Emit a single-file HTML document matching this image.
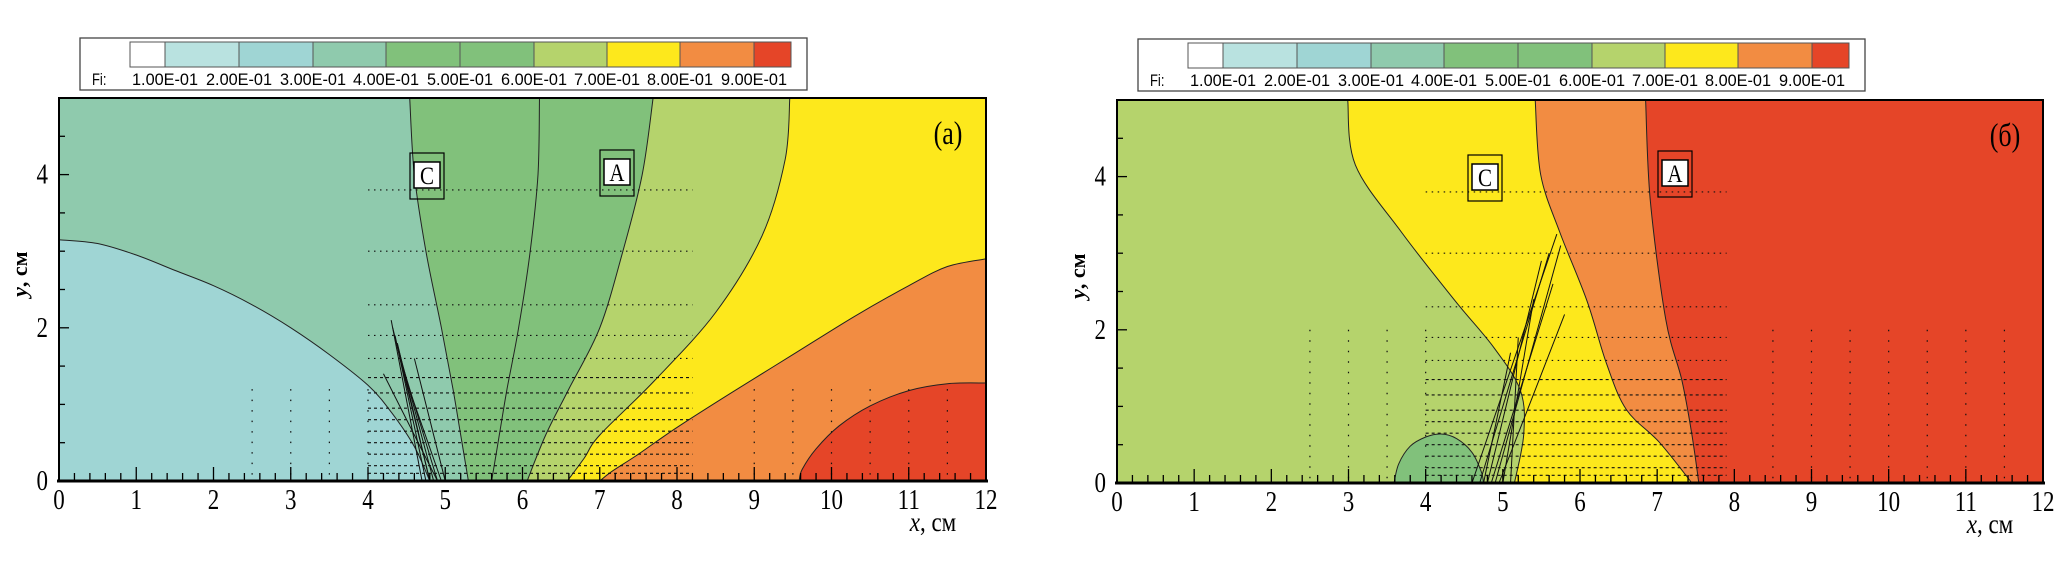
<!DOCTYPE html>
<html><head><meta charset="utf-8">
<style>
html,body{margin:0;padding:0;background:#fff;width:2067px;height:569px;overflow:hidden}
svg{display:block}
</style></head>
<body>
<svg id="fig" width="2067" height="569" viewBox="0 0 2067 569" xmlns="http://www.w3.org/2000/svg"></svg>
<script>
// ---- data ----
const levelLabels = ["1.00E-01","2.00E-01","3.00E-01","4.00E-01","5.00E-01","6.00E-01","7.00E-01","8.00E-01","9.00E-01"];
const levelColors = ["#ffffff","#b9e2e0","#9fd5d4","#8fcaad","#81c17b","#81c17b","#b5d36c","#fde81c","#f28c42","#e54528"];
const xTicks = [0,1,2,3,4,5,6,7,8,9,10,11,12];
const yTicks = [0,2,4];
// panel a contours (x,y) in cm
const aC03x = [0,0.5,1,1.5,2,2.5,3,3.5,4,4.3,4.6,4.8];
const aC03y = [3.15,3.1,2.95,2.75,2.55,2.3,2.0,1.65,1.25,0.9,0.45,0];
const aC04x = [4.54,4.6,4.75,4.95,5.1,5.2,5.3];
const aC04y = [5,4,3,2,1.2,0.6,0];
const aC05x = [6.22,6.2,6.1,5.95,5.8,5.7,5.6];
const aC05y = [5,4,3,2,1.2,0.6,0];
const aC06x = [7.69,7.55,7.3,7.0,6.6,6.3,6.06];
const aC06y = [5,4,3,2,1.2,0.6,0];
const aC07x = [9.46,9.4,9.1,8.5,7.7,7.0,6.8,6.58];
const aC07y = [5,4.2,3.2,2.2,1.3,0.6,0.3,0];
const aC08x = [12,11.5,11,10.3,9.5,8.7,8.0,7.5,7.15,7.0];
const aC08y = [2.9,2.8,2.55,2.15,1.65,1.15,0.7,0.35,0.12,0];
const aC09x = [12,11.5,11,10.5,10.1,9.8,9.62,9.58];
const aC09y = [1.28,1.27,1.18,0.98,0.72,0.42,0.15,0];
// panel b contours
const bC07x = [2.99,3.09,3.69,4.38,4.89,5.23,5.27,5.15];
const bC07y = [5,4.15,3.27,2.38,1.76,1.2,0.63,0];
const bC08x = [5.42,5.49,5.74,6.09,6.34,6.6,7.03,7.45];
const bC08y = [5,4.03,3.27,2.38,1.57,0.96,0.53,0];
const bC09x = [6.85,6.91,7.11,7.32,7.45,7.54];
const bC09y = [5,3.7,2.14,1.34,0.63,0];
const bDomeX = [3.59,3.65,3.8,4.0,4.2,4.4,4.6,4.72,4.75];
const bDomeY = [0,0.25,0.48,0.6,0.64,0.58,0.4,0.15,0];
// vector-field rows (y in cm) and jet vectors (from x0 at y=0 to tip)
const rowYa = [3.8,3.0,2.3,1.9,1.6,1.35,1.15,0.95,0.8,0.65,0.5,0.35,0.2,0.1];
const rowYb = [3.8,3.0,2.3,1.9,1.6,1.35,1.15,0.95,0.8,0.65,0.5,0.35,0.2,0.1];
const jetA0 = [4.7,4.75,4.8,4.85,4.9,4.95,5.0,4.9,4.8];
const jetAtipX = [4.3,4.35,4.32,4.4,4.45,4.5,4.6,4.2,4.38];
const jetAtipY = [2.1,1.9,2.0,1.7,1.5,1.3,1.6,1.4,1.8];
const jetB0 = [4.6,4.7,4.8,4.85,4.9,5.0,5.1,4.75,4.95];
const jetBtipX = [5.7,5.6,5.5,5.65,5.75,5.4,5.2,5.1,5.8];
const jetBtipY = [3.25,3.0,2.9,2.6,3.1,2.4,1.9,1.7,2.2];

const NS="http://www.w3.org/2000/svg";
const svg=document.getElementById('fig');
function mk(tag,attrs,parent){const e=document.createElementNS(NS,tag);for(const k in attrs)e.setAttribute(k,attrs[k]);(parent||svg).appendChild(e);return e;}
function smooth(P){ // catmull-rom -> bezier, P = [[x,y],...]
  let d='M'+P[0][0].toFixed(1)+','+P[0][1].toFixed(1);
  for(let i=0;i<P.length-1;i++){
    const p0=P[i-1]||P[i],p1=P[i],p2=P[i+1],p3=P[i+2]||p2;
    const c1=[p1[0]+(p2[0]-p0[0])/6,p1[1]+(p2[1]-p0[1])/6];
    const c2=[p2[0]-(p3[0]-p1[0])/6,p2[1]-(p3[1]-p1[1])/6];
    d+=' C'+c1.map(v=>v.toFixed(1)).join(',')+' '+c2.map(v=>v.toFixed(1)).join(',')+' '+p2[0].toFixed(1)+','+p2[1].toFixed(1);
  }
  return d;
}

function panel(P){
  const g=mk('g',{});
  
  
  const sx=x=>P.L+(P.R-P.L)*x/12, sy=y=>P.B-(P.B-P.T)*y/5;
  const pp=(xs,ys)=>xs.map((x,i)=>[sx(x),sy(ys[i])]);
  const cp=mk('clipPath',{id:'clip'+P.id},g);
  mk('rect',{x:P.L,y:P.T,width:P.R-P.L,height:P.B-P.T},cp);
  const pg=mk('g',{'clip-path':'url(#clip'+P.id+')'},g);
  
  
  mk('rect',{x:P.L,y:P.T,width:P.R-P.L,height:P.B-P.T,fill:P.bg},pg);
  P.regions.forEach(r=>{
    if(r.fill==='none') return;
    const base=smooth(pp(r.x,r.y));
    let d;
    if(r.side==='right') d=base+` L${sx(12.5)},${sy(r.y[r.y.length-1])} L${sx(12.5)},${sy(r.y[0])} Z`;
    else if(r.side==='left') d=base+` L${sx(-0.5)},${sy(0)} L${sx(-0.5)},${sy(r.y[0])} Z`;
    else if(r.side==='belowR') d=base+` L${sx(12.5)},${sy(0)} L${sx(12.5)},${sy(r.y[0])} Z`;
    else d=base+' Z';
    const e=mk('path',{d:d,fill:r.fill},pg);
    
    
  });
  P.regions.forEach(r=>{
    const e=mk('path',{d:smooth(pp(r.x,r.y)),fill:'none',stroke:'#222','stroke-width':1},pg);
    
    
  });
  P.rows.forEach(yv=>{
    const e=mk('line',{x1:sx(P.rowX0),x2:sx(P.rowX1),y1:sy(yv),y2:sy(yv),stroke:'#111','stroke-width':1.1,'stroke-dasharray':yv<1.5?'3 3':'1.5 4.5'},pg);
    
    
  });
  for(let c=0;c<P.colsX.length;c++){
    const e=mk('line',{x1:sx(P.colsX[c]),x2:sx(P.colsX[c]),y1:sy(P.colTop),y2:sy(0),stroke:'#111','stroke-width':1.2,'stroke-dasharray':'1.5 9'},pg);
    
    
  }
  P.jet0.forEach((x0,i)=>{
    const e=mk('line',{x1:sx(x0),y1:sy(0),x2:sx(P.jetX[i]),y2:sy(P.jetY[i]),stroke:'#111','stroke-width':1},pg);
    
    
  });
  const fr=mk('rect',{x:P.L,y:P.T,width:P.R-P.L,height:P.B-P.T,fill:'none',stroke:'#000','stroke-width':2},g);
  
  
  mk('line',{x1:P.L-2,x2:P.R+2,y1:P.B,y2:P.B,stroke:'#000','stroke-width':3},g);
  for(let i=0;i<=60;i++){
    const x=i*0.2, major=i%5===0;
    mk('line',{x1:sx(x),x2:sx(x),y1:P.B,y2:P.B-(major?14:8),stroke:'#000','stroke-width':1.3},g);
  }
  xTicks.forEach(v=>{
    const t=mk('text',{x:0,y:0,'text-anchor':'middle','font-family':'Liberation Serif, serif','font-size':23,transform:`translate(${sx(v)},${P.B+28}) scale(1,1.25)`},g);
    t.textContent=v;
    
    
  });
  for(let i=0;i<=10;i++){
    const y=i*0.5, major=i%4===0;
    mk('line',{x1:P.L,x2:P.L+(major?10:6),y1:sy(y),y2:sy(y),stroke:'#000','stroke-width':1.3},g);
  }
  yTicks.forEach(v=>{
    const t=mk('text',{x:0,y:0,'text-anchor':'end','font-family':'Liberation Serif, serif','font-size':23,transform:`translate(${P.L-11},${sy(v)+9}) scale(1,1.25)`},g);
    t.textContent=v;
    
    
  });
  const xl=mk('text',{x:0,y:0,'text-anchor':'middle','font-family':'Liberation Serif, serif','font-size':23,transform:`translate(${P.R-53},${P.B+50}) scale(1,1.2)`},g);
  xl.innerHTML='<tspan font-style="italic">x</tspan>, см';
  
  
  const yl=mk('text',{x:0,y:0,'text-anchor':'middle','font-family':'Liberation Serif, serif','font-size':22,'font-weight':'bold',transform:`translate(${P.L-32},${sy(2.7)}) rotate(-90)`},g);
  yl.innerHTML='<tspan font-style="italic">y</tspan>, см';
  
  
  const pl=mk('text',{x:0,y:0,'text-anchor':'middle','font-family':'Liberation Serif, serif','font-size':26,transform:`translate(${P.R-38},${P.T+46}) scale(1,1.25)`},g);
  pl.textContent=P.label;
  
  
  P.marks.forEach(m=>{
    const mg=mk('g',{},g);
    
    
    mk('rect',{x:m.x,y:m.y,width:34,height:46,fill:'none',stroke:'#000','stroke-width':1.2},mg);
    mk('rect',{x:m.x+4,y:m.y+9,width:26,height:26,fill:'#fff',stroke:'#000','stroke-width':1.5},mg);
    const t=mk('text',{x:0,y:0,'text-anchor':'middle','font-family':'Liberation Serif, serif','font-size':21,transform:`translate(${m.x+17},${m.y+31}) scale(1,1.2)`},mg);
    t.textContent=m.t;
  });
  const lg=mk('g',{},g);
  
  
  mk('rect',{x:P.legX,y:P.legY,width:727,height:52,fill:'#fff',stroke:'#444','stroke-width':1.3},lg);
  const bx=P.legX+50, bw=[35,74,74,73,74,74,73,73,74,37];
  let cx=bx;
  levelColors.forEach((c,i)=>{
    const r=mk('rect',{x:cx,y:P.legY+4,width:bw[i],height:25,fill:c,stroke:'#555','stroke-width':1},lg);
    
    
    cx+=bw[i];
    if(i<levelLabels.length){
      const t=mk('text',{x:0,y:0,'text-anchor':'middle','font-family':'Liberation Sans, sans-serif','font-size':13,textLength:66,lengthAdjust:'spacingAndGlyphs',transform:`translate(${cx},${P.legY+47}) scale(1,1.3)`},lg);
      t.textContent=levelLabels[i];
      
      
    }
  });
  const fi=mk('text',{x:0,y:0,'font-family':'Liberation Sans, sans-serif','font-size':13,transform:`translate(${P.legX+12},${P.legY+47}) scale(1,1.3)`},lg);
  fi.textContent='Fi:';
}

panel({id:'a',name:'panel-a',L:59,R:986,T:98,B:481,bg:'#8fcaad',label:'(a)',
  regions:[
    {x:aC04x,y:aC04y,side:'right',fill:'#81c17b'},
    {x:aC05x,y:aC05y,side:'none',fill:'none'},
    {x:aC06x,y:aC06y,side:'right',fill:'#b5d36c'},
    {x:aC07x,y:aC07y,side:'right',fill:'#fde81c'},
    {x:aC08x,y:aC08y,side:'belowR',fill:'#f28c42'},
    {x:aC09x,y:aC09y,side:'belowR',fill:'#e54528'},
    {x:aC03x,y:aC03y,side:'left',fill:'#9fd5d4'}
  ],
  rows:rowYa,rowX0:4.0,rowX1:8.2,colsX:[2.5,3,3.5,4,9,9.5,10,10.5,11,11.5],colTop:1.2,
  jet0:jetA0,jetX:jetAtipX,jetY:jetAtipY,
  marks:[{x:410,y:153,t:'C'},{x:600,y:150,t:'A'}],legX:80,legY:38});

panel({id:'b',name:'panel-b',L:1117,R:2043,T:100,B:483,bg:'#b5d36c',label:'(б)',
  regions:[
    {x:bC07x,y:bC07y,side:'right',fill:'#fde81c'},
    {x:bC08x,y:bC08y,side:'right',fill:'#f28c42'},
    {x:bC09x,y:bC09y,side:'right',fill:'#e54528'},
    {x:bDomeX,y:bDomeY,side:'none',fill:'#81c17b'}
  ],
  rows:rowYb,rowX0:4.0,rowX1:7.9,colsX:[2.5,3,3.5,4,8.5,9,9.5,10,10.5,11,11.5],colTop:2.0,
  jet0:jetB0,jetX:jetBtipX,jetY:jetBtipY,
  marks:[{x:1468,y:155,t:'C'},{x:1658,y:151,t:'A'}],legX:1138,legY:39});
</script>
</body></html>
